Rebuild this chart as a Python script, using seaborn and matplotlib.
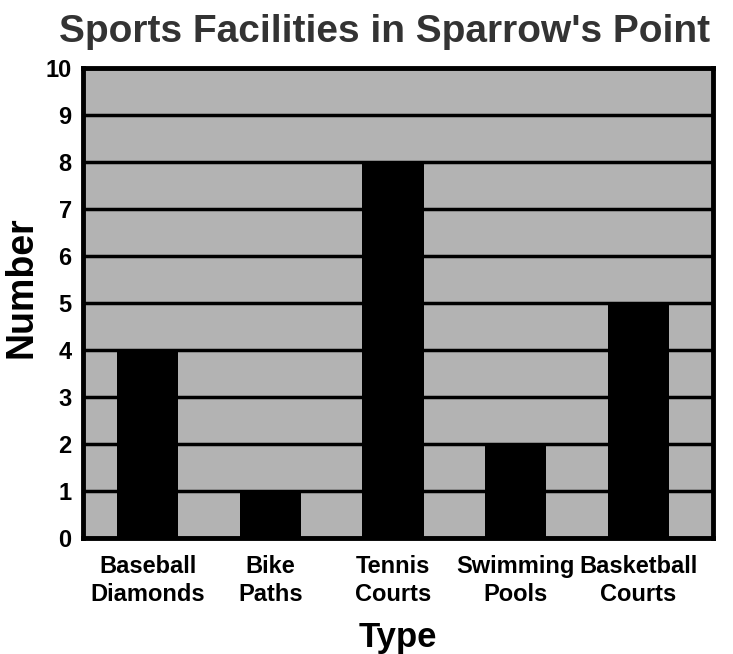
import matplotlib
matplotlib.use("Agg")
import matplotlib.pyplot as plt
import seaborn as sns
import pandas as pd

# chart data
categories = ["Baseball\nDiamonds", "Bike\nPaths", "Tennis\nCourts", "Swimming\nPools", "Basketball\nCourts"]
counts = [4, 1, 8, 2, 5]
y_ticks = list(range(0, 11))

df = pd.DataFrame({"Type": categories, "Number": counts})

sns.set_style("white")
plt.rcParams['font.family'] = ['Liberation Sans', 'DejaVu Sans']
plt.rcParams['text.color'] = 'black'
plt.rcParams['xtick.color'] = 'black'
plt.rcParams['ytick.color'] = 'black'
plt.rcParams['axes.labelcolor'] = 'black'

fig = plt.figure(figsize=(7.33, 6.54), dpi=100)
ax = fig.add_axes([0.113, 0.177, 0.86, 0.719])
ax.set_facecolor("#b3b3b3")

sns.barplot(data=df, x="Type", y="Number", color="black", width=0.5,
            saturation=1, ax=ax, zorder=3, edgecolor="black", linewidth=0)

ax.set_ylim(0, 10)
ax.set_xlim(-0.53, 4.61)
ax.set_yticks(y_ticks)
ax.yaxis.grid(True, color="black", linewidth=2.5, zorder=1)
ax.set_axisbelow(True)
for sp in ax.spines.values():
    sp.set_linewidth(3.5)
    sp.set_color("black")
    sp.set_zorder(4)

ax.tick_params(axis="y", length=0, pad=8)
ax.tick_params(axis="x", length=0, pad=12)
for lab in ax.get_yticklabels():
    lab.set_fontsize(17)
    lab.set_fontweight("heavy")
for lab in ax.get_xticklabels():
    lab.set_fontsize(17)
    lab.set_fontweight("heavy")
    lab.set_linespacing(1.3)

ax.set_ylabel("Number", fontsize=27, fontweight="heavy")
ax.yaxis.set_label_coords(-0.068, 0.533)
ax.set_xlabel("Type", fontsize=25, fontweight="heavy")
ax.xaxis.set_label_coords(0.5, -0.175)
fig.suptitle("Sports Facilities in Sparrow's Point", fontsize=28, fontweight="heavy",
             color="#333333", x=0.524, y=0.978)

fig.savefig("out.png", dpi=100)
